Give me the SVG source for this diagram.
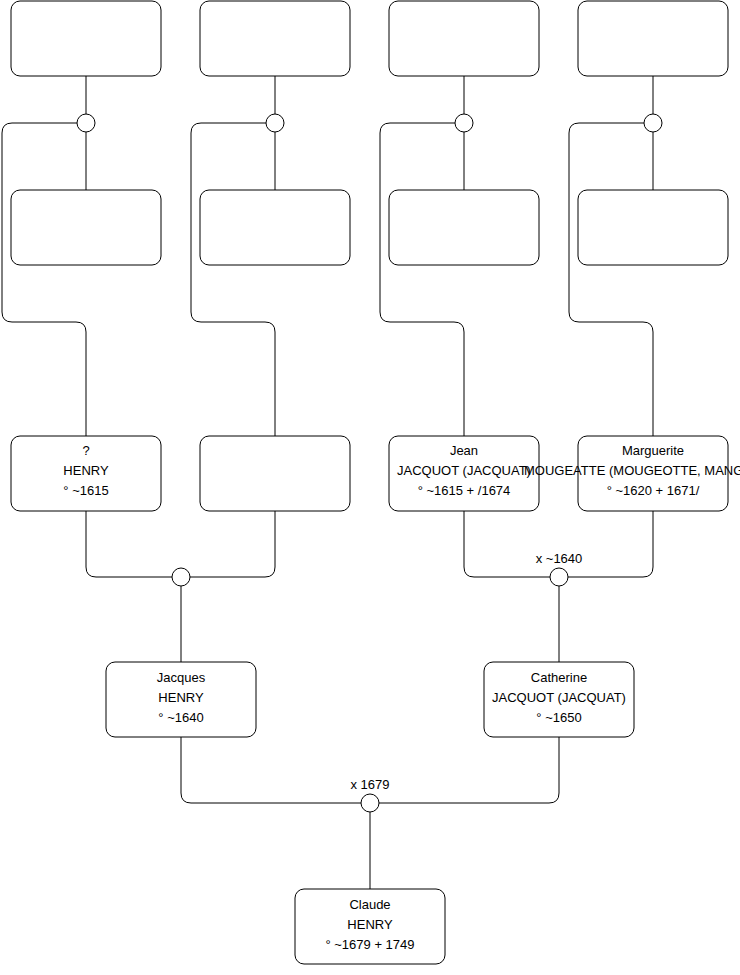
<svg xmlns="http://www.w3.org/2000/svg" width="740" height="975" viewBox="0 0 740 975">
<style>
.box{fill:#fff;stroke:#000;stroke-width:1}
.c{fill:#fff;stroke:#000;stroke-width:1}
.ln{fill:none;stroke:#000;stroke-width:1}
text{font-family:"Liberation Sans",Arial,sans-serif;font-size:13px;fill:#000;text-anchor:middle}
</style>
<rect width="740" height="975" fill="#fff"/>
<g id="connectors">
<path class="ln" d="M86,76V114M86,132V190M77,123H12Q2,123 2,133V312Q2,322 12,322H76Q86,322 86,332V436"/>
<path class="ln" d="M275,76V114M275,132V190M266,123H201Q191,123 191,133V312Q191,322 201,322H265Q275,322 275,332V436"/>
<path class="ln" d="M464,76V114M464,132V190M455,123H390Q380,123 380,133V312Q380,322 390,322H454Q464,322 464,332V436"/>
<path class="ln" d="M653,76V114M653,132V190M644,123H579Q569,123 569,133V312Q569,322 579,322H643Q653,322 653,332V436"/>
<path class="ln" d="M86,511V567Q86,577 96,577H172M275,511V567Q275,577 265,577H190M181,586V662"/>
<path class="ln" d="M464,511V567Q464,577 474,577H550M653,511V567Q653,577 643,577H568M559,586V662"/>
<path class="ln" d="M181,737V793Q181,803 191,803H361M559,737V793Q559,803 549,803H379M370,812V889"/>
<circle class="c" cx="86" cy="123" r="9"/>
<circle class="c" cx="275" cy="123" r="9"/>
<circle class="c" cx="464" cy="123" r="9"/>
<circle class="c" cx="653" cy="123" r="9"/>
<circle class="c" cx="181" cy="577" r="9"/>
<circle class="c" cx="559" cy="577" r="9"/>
<circle class="c" cx="370" cy="803" r="9"/>
<text x="559" y="563">x ~1640</text>
<text x="370" y="789">x 1679</text>
</g>
<g id="n1"><rect class="box" x="11" y="1" width="150" height="75" rx="9"/></g>
<g id="n2"><rect class="box" x="200" y="1" width="150" height="75" rx="9"/></g>
<g id="n3"><rect class="box" x="389" y="1" width="150" height="75" rx="9"/></g>
<g id="n4"><rect class="box" x="578" y="1" width="150" height="75" rx="9"/></g>
<g id="n5"><rect class="box" x="11" y="190" width="150" height="75" rx="9"/></g>
<g id="n6"><rect class="box" x="200" y="190" width="150" height="75" rx="9"/></g>
<g id="n7"><rect class="box" x="389" y="190" width="150" height="75" rx="9"/></g>
<g id="n8"><rect class="box" x="578" y="190" width="150" height="75" rx="9"/></g>
<g id="henry1"><rect class="box" x="11" y="436" width="150" height="75" rx="9"/>
<text x="86" y="455">?</text><text x="86" y="475">HENRY</text><text x="86" y="495">° ~1615</text></g>
<g id="n10"><rect class="box" x="200" y="436" width="150" height="75" rx="9"/></g>
<g id="jean"><rect class="box" x="389" y="436" width="150" height="75" rx="9"/>
<text x="464" y="455">Jean</text><text x="464" y="475">JACQUOT (JACQUAT)</text><text x="464" y="495">° ~1615 + /1674</text></g>
<g id="marguerite"><rect class="box" x="578" y="436" width="150" height="75" rx="9"/>
<text x="653" y="455">Marguerite</text><text x="524" y="475" style="text-anchor:start">MOUGEATTE (MOUGEOTTE, MANGEOTTE)</text><text x="653" y="495">° ~1620 + 1671/</text></g>
<g id="jacques"><rect class="box" x="106" y="662" width="150" height="75" rx="9"/>
<text x="181" y="682">Jacques</text><text x="181" y="702">HENRY</text><text x="181" y="722">° ~1640</text></g>
<g id="catherine"><rect class="box" x="484" y="662" width="150" height="75" rx="9"/>
<text x="559" y="682">Catherine</text><text x="559" y="702">JACQUOT (JACQUAT)</text><text x="559" y="722">° ~1650</text></g>
<g id="claude"><rect class="box" x="295" y="889" width="150" height="75" rx="9"/>
<text x="370" y="909">Claude</text><text x="370" y="929">HENRY</text><text x="370" y="949">° ~1679 + 1749</text></g>
</svg>
